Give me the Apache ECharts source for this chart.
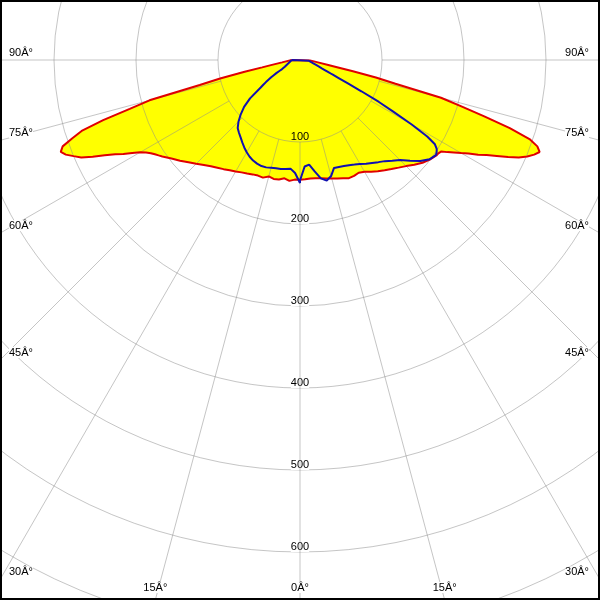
<!DOCTYPE html>
<html><head><meta charset="utf-8">
<script src="https://cdn.jsdelivr.net/npm/echarts/dist/echarts.min.js"></script>
<style>html,body{margin:0;padding:0;background:#fff}#c{width:600px;height:600px}</style>
</head><body><div id="c"></div>
<script>
// gamma angles (degrees from nadir), shared by all half-curves
const gamma = [0,2.5,5,7.5,10,12.5,15,17.5,20,22.5,25,27.5,30,32.5,35,37.5,40,42.5,45,47.5,50,52.5,55,
  56,57,58,59,60,61,62,63,64,65,66,67,68,69,70,71,72,73,74,75,76,77,78,79,80,82.5,85,87.5,90];
// red curve (C0-C180 plane), left half and right half
const redLeft = [146,146,148,145.5,148,148.5,147,150.4,150,151,152.7,154.5,157,159.5,162.5,165.5,169,173.5,179,184.5,191,197.5,205,
  208,211,214.5,219,225,234,244,253,265,279,292,300,308,312.5,308,294,280,251,216,190,126,100,69,47,36,22,16,12,10];
const redRight = [146,145.5,145,145.5,146.5,148,149.5,151.5,153.5,156,156,155,157.5,161.5,165.5,169.5,173.5,178,183,189,195,199.5,203,
  203.5,205,212,219,227,235,246,255.5,267,280,292,301,308,313,308,296,269,235,204,178,120,95,66,46,35,22,16,12,10];
// blue curve (C90-C270 plane)
const blueLeft = [150,138,133,134,135,135.2,136,137.3,137.6,136.8,135.3,133,130,126.5,122.7,119,115.8,112.5,106,98,89,76.8,58.5,
  54,49.5,45,41,37,33,28.5,24.5,22.3,21,20.3,19.3,18.6,18,17.3,16.6,16,15.4,14.9,14.3,13.9,13.5,13,12.7,12.4,11.7,11,10.5,10];
const blueRight = [147,130,128,137,146.5,150.7,146.5,138,138.8,140,141.5,143.8,146.4,150,153.2,157,161,166.5,172.5,182,191.5,199,202.3,
  201,198.8,194,181,157.3,130,109,84,65,52,42.7,37,32.6,29,26.3,24,22,20.5,19,17.8,16.7,15.8,15,14,13,12,11,10,9];
// axis ticks / labels
const radiusTicks = [100,200,300,400,500,600];
const radiusLabels = ['100','200','300','400','500','600'];
const spokeAngles = [-90,-75,-60,-45,-30,-15,0,15,30,45,60,75,90];
const spokeLabels = ['90Â°','75Â°','60Â°','45Â°','30Â°','15Â°','0Â°','15Â°','30Â°','45Â°','60Â°','75Â°','90Â°'];
const spokeInner = 100;

const W = 600, H = 600, CX = 300, CY = 60, RMAX = 800, RPX = 656;
const FONT = '11px "Liberation Sans"';
const GRID = 'rgba(140,140,140,0.5)';

function toAngle(g, side) { return side < 0 ? 360 - g : g; }
function curve(left, right) {
  const pts = [];
  for (let i = gamma.length - 1; i >= 0; i--) pts.push([left[i], toAngle(gamma[i], -1)]);
  for (let i = 0; i < gamma.length; i++) pts.push([right[i], toAngle(gamma[i], 1)]);
  pts.push(pts[0].slice());
  return pts;
}
const redPts = curve(redLeft, redRight);
const bluePts = curve(blueLeft, blueRight);

const series = [];
series.push({ type:'line', coordinateSystem:'polar', polarIndex:0, data: redPts, symbol:'none', silent:true,
  lineStyle:{ opacity:0 }, areaStyle:{ color:'#ffff00', opacity:1 }, z:1 });
spokeAngles.forEach(a => {
  const ang = a >= 0 ? a : 360 + a;
  series.push({ type:'line', coordinateSystem:'polar', polarIndex:0, data:[[spokeInner, ang],[RMAX, ang]], symbol:'none', silent:true,
    lineStyle:{ color: GRID, width:1 }, z:2 });
});
series.push({ type:'line', coordinateSystem:'polar', polarIndex:0, data: redPts, symbol:'none', silent:true,
  lineStyle:{ color:'#e00000', width:2 }, z:3 });
series.push({ type:'line', coordinateSystem:'polar', polarIndex:0, data: bluePts, symbol:'none', silent:true,
  lineStyle:{ color:'#1010b0', width:2 }, z:4 });

function labelPos(a) {
  const rad = a * Math.PI / 180, dx = Math.sin(rad), dy = Math.cos(rad);
  const tSide = Math.abs(dx) < 1e-9 ? Infinity : (dx > 0 ? (W - CX) / dx : -CX / dx);
  const tBot = dy < 1e-9 ? Infinity : (H - CY) / dy;
  if (tSide < tBot) {
    const yHit = CY + tSide * dy;
    return { x: dx > 0 ? 589 : 9, y: yHit - 2, align: dx > 0 ? 'right' : 'left' };
  }
  return { x: CX + tBot * dx, y: H - 7, align: 'center' };
}
const graphics = spokeAngles.map((a, i) => {
  const p = labelPos(a);
  return { type:'text', x: p.x, y: p.y, z: 100, silent:true,
    style:{ text: spokeLabels[i], fill:'#000', font: FONT, textAlign: p.align, align: p.align,
      textVerticalAlign:'bottom', verticalAlign:'bottom', backgroundColor:'#fff' } };
});
graphics.push({ type:'rect', z: 200, silent:true, shape:{ x:0, y:0, width:W, height:H },
  style:{ fill:'none', stroke:'#000', lineWidth:4 } });

const chart = echarts.init(document.getElementById('c'), null, { renderer:'canvas' });
chart.setOption({
  animation:false,
  backgroundColor:'#fff',
  polar:[{ center:[CX, CY], radius: RPX }],
  angleAxis:[{ polarIndex:0, type:'value', min:0, max:360, startAngle:270, clockwise:false,
    axisLine:{show:false}, axisTick:{show:false}, axisLabel:{show:false}, splitLine:{show:false} }],
  radiusAxis:[{ polarIndex:0, type:'value', min:0, max:RMAX, interval:100, z:2,
    axisLine:{show:false}, axisTick:{show:false},
    splitLine:{ show:true, lineStyle:{ color: GRID, width:1 } },
    axisLabel:{ show:true, margin:0, align:'center', verticalAlign:'bottom', color:'#000',
      fontFamily:'Liberation Sans', fontSize:11,
      formatter: v => { const k = radiusTicks.indexOf(v); return k < 0 ? '' : (k === 0 ? '{y|' + radiusLabels[k] + '}' : '{w|' + radiusLabels[k] + '}'); },
      rich:{ w:{ backgroundColor:'#fff', fontFamily:'Liberation Sans', fontSize:11, color:'#000' },
             y:{ fontFamily:'Liberation Sans', fontSize:11, color:'#000' } } } }],
  series: series,
  graphic: graphics
});
</script></body></html>
